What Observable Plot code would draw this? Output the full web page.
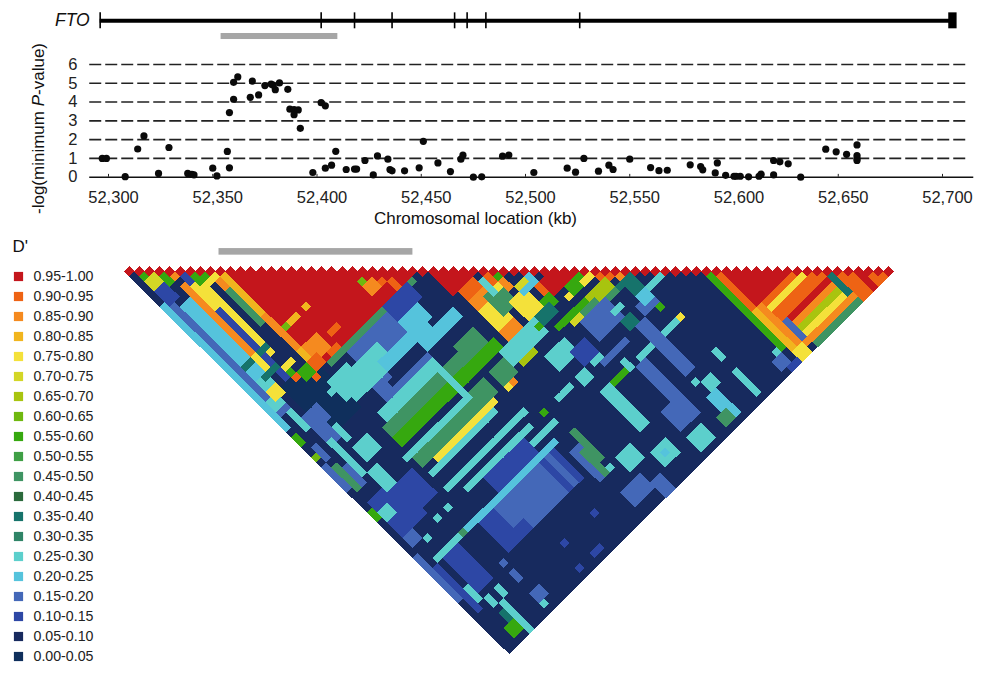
<!DOCTYPE html>
<html><head><meta charset="utf-8">
<script src="https://cdn.jsdelivr.net/npm/d3@7"></script>
<script src="https://cdn.jsdelivr.net/npm/@observablehq/plot@0.6"></script>
<style>
html,body{margin:0;padding:0;background:#fff}
#c{position:relative;width:984px;height:674px;overflow:hidden}
#c svg{position:absolute;left:0;top:0}
</style></head><body><div id="c"></div>
<script>
const posKb=[52297,52299,52308,52314,52317,52324,52329,52338,52340,52341,52350,52352,52357,52358,52358,52360,52360,52362,52368,52369,52372,52375,52378,52380,52379,52382,52386,52387,52389,52391,52389,52392,52398,52402,52404,52404,52407,52409,52414,52418,52419,52423,52427,52429,52434,52435,52436,52442,52449,52451,52458,52464,52469,52470,52475,52479,52489,52492,52504,52520,52524,52528,52535,52540,52542,52550,52560,52564,52568,52579,52584,52585,52592,52591,52596,52600,52601,52603,52607,52612,52613,52619,52622,52626,52619,52632,52644,52649,52654,52659,52659,52659,52659];
const logP=[1.0,1.0,0.03,1.5,2.2,0.2,1.58,0.2,0.15,0.12,0.48,0.07,1.37,0.5,3.44,4.15,5.05,5.34,4.25,5.12,4.38,4.88,4.96,4.66,4.9,5.02,4.68,3.62,3.6,3.58,3.33,2.6,0.25,3.97,3.8,0.48,0.64,1.38,0.41,0.43,0.43,0.89,0.12,1.13,0.96,0.41,0.34,0.34,0.5,1.91,0.76,0.3,0.96,1.17,0,0.02,1.12,1.18,0.25,0.48,0.27,1.0,0.32,0.64,0.41,0.96,0.51,0.35,0.37,0.66,0.57,0.39,0.76,0.23,0.1,0.05,0.05,0.05,0.02,0.05,0.16,0.89,0.82,0.71,0.12,0,1.49,1.35,1.22,1.72,1.15,1.0,0.89];
const xTicks=[52300,52350,52400,52450,52500,52550,52600,52650,52700];
const yTicks=[0,1,2,3,4,5,6];
const gridLevels=[1,2,3,4,5,6];
const geneExons=[52296,52402,52418,52436,52466,52472,52481,52526];
const geneSpan=[52296,52705];
const geneEnd=[52703,52707];
const regionTop=[52354,52410];
const regionLower=[52353,52446];
const legendLabels=["0.95-1.00","0.90-0.95","0.85-0.90","0.80-0.85","0.75-0.80","0.70-0.75","0.65-0.70","0.60-0.65","0.55-0.60","0.50-0.55","0.45-0.50","0.40-0.45","0.35-0.40","0.30-0.35","0.25-0.30","0.20-0.25","0.15-0.20","0.10-0.15","0.05-0.10","0.00-0.05"];
const legendColors=["#c4161c","#ee6314","#f58a1f","#f1b51e","#f4e13a","#d3d626","#a8c40f","#6fb80f","#36a80f","#3f9f45","#3f9463","#2b6a3c","#16736b","#2f8467","#5ccfcc","#55c3dc","#4468b8","#2d47a5","#172a5e","#0f2f5c"];
const snpCount=76;
// D' patches: [first a, last a, first b, last b, lower bound of the D' class]
const leftPatches=[
[0,0,7,24,20],[0,0,25,31,20],[1,1,8,26,15],[2,3,9,23,20],[4,4,7,23,85],[5,5,6,26,10],[6,6,6,22,75],[5,5,8,12,75],[7,7,6,28,5],[8,8,9,18,45],[9,9,10,28,80],[9,9,18,24,85],
[0,0,1,6,5],[1,2,3,4,70],[1,1,2,2,55],[1,2,5,7,10],[3,4,4,5,55],[4,5,5,5,85],[6,7,7,8,55],[7,8,9,9,75],[8,8,10,11,85],
[4,9,27,31,0],[5,9,31,36,0],[8,8,32,32,25],[3,5,32,34,15],[2,2,30,33,25],[1,2,27,28,25],[1,2,29,29,15],[2,3,24,26,25],[2,3,26,27,75],[3,5,24,24,35],[2,4,21,21,35],[4,4,21,23,75],[5,6,21,21,35],[6,6,27,27,90],[6,6,26,26,55],[6,7,25,25,75],[8,8,28,29,90],[7,8,27,28,55],[3,4,35,37,15],[5,5,36,38,25]];
const redPatches=[
[10,28,10,28,95],[14,14,21,21,80],[10,12,21,21,80],[10,10,21,21,60],[14,15,26,26,90],[10,12,25,27,85],[12,13,28,28,90],[9,10,27,28,90],[22,22,24,24,60],[22,23,25,26,85],[24,24,26,26,90],[25,25,27,28,90],
[11,27,29,29,45],[30,33,30,34,95],[40,44,40,44,95],[39,39,40,44,90],[59,65,59,65,95]];
const midPatches=[
[14,24,30,33,15],[22,26,29,31,10],[9,12,31,34,25],[10,13,34,35,25],[13,17,32,35,25],[16,22,34,35,20],[22,24,35,37,20],[22,25,32,34,20],[25,28,36,37,20],[25,28,40,42,45],[25,29,43,44,55],
[13,15,36,39,15],[15,21,37,37,5],[15,21,38,38,15],[11,21,39,40,25],
[10,20,41,42,45],[10,20,43,44,55],[21,21,40,45,25],[22,24,41,42,45],[22,24,43,44,55],[9,24,46,46,25],[10,22,47,48,45],[12,21,49,49,75],[10,22,50,50,25],[10,25,53,53,25],[12,24,55,55,25],[8,25,59,59,20],[7,7,59,59,45],
[10,24,60,65,15],[10,12,60,65,10],[13,13,60,65,15],[21,21,60,65,15],[22,22,60,65,10],[23,23,60,65,15],[24,24,60,65,10],[10,14,64,65,10],[26,28,46,48,45],[26,26,49,49,75],[27,27,49,49,85],[22,24,46,48,45],[22,23,49,49,75],
[29,32,45,47,25],[30,32,48,48,65],[33,35,45,47,25],[35,37,46,46,55],[33,36,50,52,25],[34,35,55,56,25],[37,39,59,59,55],[35,36,59,66,25],[30,32,55,55,25],[27,27,55,55,55],[23,27,57,57,25],[15,22,56,58,10],[36,38,52,54,10],[38,42,56,56,15],[40,40,58,59,25],[37,38,55,55,25],
[31,33,35,36,90],[31,33,37,38,85],[31,33,39,42,75],[31,33,43,44,85],[33,35,38,41,45],[35,37,41,44,75],[37,39,40,41,20],[35,36,36,37,90],[34,35,38,38,75],[36,36,38,39,85],[37,38,40,40,70],[38,38,39,39,5],[40,40,41,41,5],[36,36,37,37,55],[34,34,36,38,25],
[38,39,44,45,55],[36,38,45,46,35],[42,44,45,46,55],[41,41,46,46,75],[42,45,47,47,5],[41,46,49,50,45],[42,47,48,48,65],[37,42,48,48,55],[39,40,49,49,70],[45,45,46,46,25],[44,45,46,46,75],[46,47,47,48,90],[44,46,48,49,65],[48,49,49,49,85],[47,49,50,52,35],[45,47,51,54,5],[40,44,50,53,15],[44,45,52,52,25],[44,45,54,55,35]];
const rightPatches=[
[49,52,53,53,25],[47,49,54,55,15],[49,49,56,56,55],[48,49,53,54,20],[50,50,59,59,75],[47,49,59,59,25],[42,45,59,59,25],[45,46,56,65,15],[41,42,60,67,15],[50,50,66,67,25],[46,47,68,69,25],[45,45,67,67,25],[45,46,70,74,20],[44,45,73,74,45],[50,50,70,74,25],[39,41,72,74,25],[34,36,70,72,25],[39,42,67,70,15],
[30,32,67,69,25],[35,35,71,71,20],[27,30,71,73,15],[31,32,73,75,15],[26,27,62,67,15],[27,27,63,67,45],[28,28,60,65,45],[28,28,67,67,25],
[22,22,70,70,10],[16,16,70,70,10],[18,19,74,74,10],[15,15,74,74,10],[8,8,68,69,15],[8,8,66,66,15],
[0,0,57,65,15],[1,1,60,68,10],[1,2,53,55,15],
[2,3,73,74,55],[4,4,72,75,25],[4,4,70,71,25],[8,8,74,74,25],[8,9,72,73,15],[3,3,68,69,25],[2,2,65,67,25],[5,5,68,69,25],[4,4,66,66,25],[3,3,71,72,35],[3,3,56,56,25],[2,6,59,59,25],[3,5,60,66,10],[8,8,55,55,25],[6,6,55,55,25],[1,5,47,53,10],[4,8,48,52,10],
[0,0,48,49,55],[1,2,49,50,25],[1,1,40,44,45],[0,0,41,42,45],[2,2,41,44,15],[1,1,36,38,15],[0,0,39,43,15],[5,7,40,42,25],[3,3,37,43,25],[4,5,44,47,25],[0,0,37,37,60],[0,0,33,34,55],
[58,58,59,66,90],[57,57,58,72,55],[56,56,60,74,5],[60,66,66,66,90],[60,67,67,67,75],[60,68,68,69,90],[60,69,70,70,95],[60,70,71,71,85],[60,71,72,72,65],[60,72,73,73,75],[60,73,74,74,85],[61,70,75,75,45],[71,75,75,75,90],
[69,69,70,73,35],[70,70,73,74,35],[70,75,71,75,90],[72,75,72,75,95],[73,74,74,75,90],[60,60,70,73,15],[58,58,66,73,80],[59,59,66,74,85],[58,59,74,75,75],[56,56,72,72,25],[55,56,73,74,15],[56,57,75,75,10]];
const patches=[...leftPatches,...redPatches,...midPatches,...rightPatches];

const labelOf=v=>legendLabels[19-v/5];
const grid=new Map();
for(let a=0;a<snpCount;a++)for(let b=a;b<snpCount;b++)grid.set(a+"|"+b,a===b?95:5);
for(const [a0,a1,b0,b1,v] of patches)for(let a=a0;a<=a1;a++)for(let b=Math.max(b0,a+1);b<=b1;b++)grid.set(a+"|"+b,v);
const cells=[...grid].map(([k,v])=>{const [a,b]=k.split("|").map(Number);return {s:(a+b)/2,d:b-a,label:labelOf(v)};});
const diamond={draw(ctx,size){const h=Math.sqrt(size/Math.PI);ctx.moveTo(0,-h);ctx.lineTo(h,0);ctx.lineTo(0,h);ctx.lineTo(-h,0);ctx.closePath();}};
const font='"Liberation Sans",Arial,sans-serif';
const colorScale={type:"ordinal",domain:legendLabels,range:legendColors};
const root=document.getElementById("c");

const scatterPlot=Plot.plot({width:984,height:674,marginLeft:88,marginBottom:497.3,marginTop:0,marginRight:0,
 style:{background:"transparent",fontFamily:font,fontSize:"16.5px",color:"#222"},
 x:{domain:[52300,52700],range:[108,942],axis:null},
 y:{domain:[0,6],range:[176.7,64],axis:null},
 marks:[
  Plot.axisX({ticks:xTicks,tickSize:0,tickPadding:14,dx:5,tickFormat:d3.format(","),label:null,fontSize:16.5}),
  Plot.axisY({ticks:yTicks,tickSize:0,tickPadding:11,tickFormat:d3.format("d"),label:null,fontSize:16.5}),
  Plot.ruleX(xTicks,{x:d=>d,y1:0,y2:0.15,stroke:"#222"}),
  Plot.ruleY(gridLevels,{y:d=>d,x1:52291,x2:52713,stroke:"#222",strokeWidth:1.6,strokeDasharray:"12 4"}),
  Plot.ruleY([0],{x1:52291,x2:52715,stroke:"#111",strokeWidth:1.5}),
  Plot.dot(posKb.map((x,i)=>({x,y:logP[i]})),{x:"x",y:"y",r:3.6,fill:"#0a0a0a"}),
  Plot.ruleY([8.33],{x1:geneSpan[0],x2:geneSpan[1],stroke:"#000",strokeWidth:3.8}),
  Plot.ruleX(geneExons,{x:d=>d,y1:7.9,y2:8.75,stroke:"#000",strokeWidth:1.6}),
  Plot.rect([0],{x1:geneEnd[0],x2:geneEnd[1],y1:7.9,y2:8.75,fill:"#000"}),
  Plot.rect([0],{x1:regionTop[0],x2:regionTop[1],y1:7.33,y2:7.65,fill:"#a6a6a6"}),
  Plot.rect([0],{x1:regionLower[0],x2:regionLower[1],y1:-3.8,y2:-4.15,fill:"#a6a6a6"}),
  Plot.text(["FTO"],{x:52291,y:8.33,textAnchor:"end",fontStyle:"italic",fontSize:17.5,fill:"#111"}),
  Plot.text(["Chromosomal location (kb)"],{x:52476,y:-2.2,fontSize:17,fill:"#111"})
 ]});
root.appendChild(scatterPlot);

const ylab=Plot.plot({width:984,height:674,margin:0,style:{background:"transparent",fontFamily:font},
 x:{domain:[0,984],range:[0,984],axis:null},y:{domain:[0,674],range:[0,674],axis:null},
 marks:[Plot.text(["-log(minimum P-value)"],{x:()=>38,y:()=>128,rotate:-90,fontSize:17,fill:"#111"})]});
root.appendChild(ylab);
d3.select(ylab).selectAll("text").filter(function(){return this.textContent.startsWith("-log");}).each(function(){this.innerHTML='-log(minimum <tspan font-style="italic">P</tspan>-value)';});

const tri=Plot.plot({width:984,height:674,margin:0,style:{background:"transparent",fontFamily:font,filter:"blur(0.4px)"},
 x:{domain:[0,75],range:[129,888],axis:null},y:{domain:[0,75],range:[271,648],axis:null},color:colorScale,
 marks:[Plot.dot(cells,{x:"s",y:"d",fill:"label",r:5.5,symbol:diamond,shapeRendering:"crispEdges"})]});
root.appendChild(tri);

const leg=Plot.plot({width:984,height:674,margin:0,style:{background:"transparent",fontFamily:font},
 x:{domain:[0,984],range:[0,984],axis:null},y:{type:"point",domain:legendLabels,range:[265,667],axis:null},color:colorScale,
 marks:[
  Plot.dot(legendLabels,{x:()=>18,y:d=>d,fill:d=>d,symbol:"square",r:5.2}),
  Plot.text(legendLabels,{x:()=>33,y:d=>d,text:d=>d,textAnchor:"start",fontSize:14.2,fill:"#222"}),
 ]});
root.appendChild(leg);
const dp=Plot.plot({width:984,height:674,margin:0,style:{background:"transparent",fontFamily:font},
 x:{domain:[0,984],range:[0,984],axis:null},y:{domain:[0,674],range:[0,674],axis:null},
 marks:[Plot.text(["D'"],{x:()=>12,y:()=>246,textAnchor:"start",fontSize:17,fill:"#111"})]});
root.appendChild(dp);
</script></body></html>
